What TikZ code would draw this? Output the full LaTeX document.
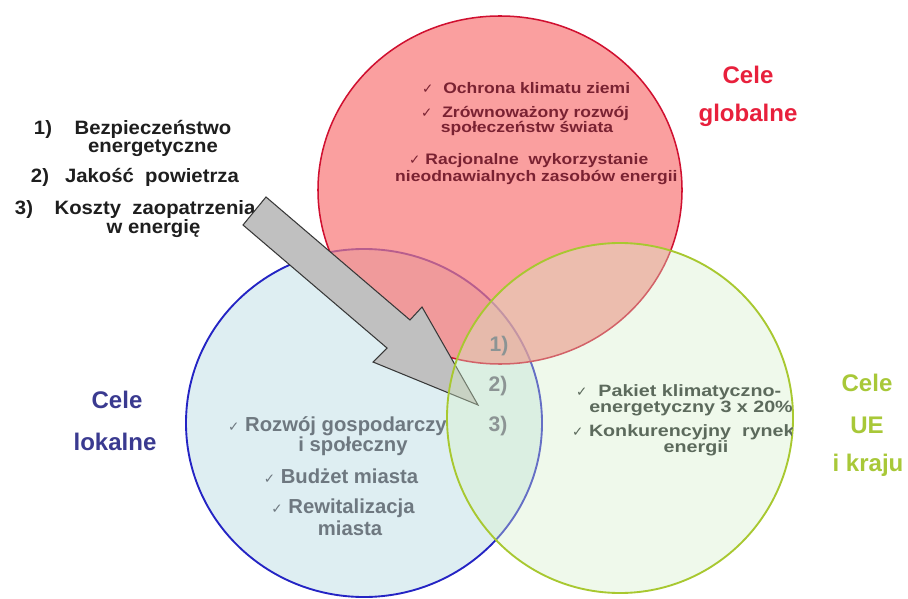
\documentclass[tikz,border=0pt]{standalone}
\usepackage{fontspec}
\setmainfont{Liberation Sans}
\newfontfamily\fL[FakeStretch=1.05]{Liberation Sans}
\newfontfamily\fR[FakeStretch=1.15]{Liberation Sans}
\newfontfamily\fB[FakeStretch=1.0]{Liberation Sans}
\newfontfamily\fG[FakeStretch=1.2]{Liberation Sans}
\newfontfamily\chkfont{DejaVu Sans}
\definecolor{redfill}{RGB}{248,119,119}
\definecolor{redline}{RGB}{208,16,48}
\definecolor{bluefill}{RGB}{222,238,242}
\definecolor{blueline}{RGB}{36,36,196}
\definecolor{greenfill}{RGB}{214,241,201}
\definecolor{greenline}{RGB}{168,200,48}
\definecolor{arrowfill}{RGB}{192,192,192}
\definecolor{arrowline}{RGB}{56,56,56}
\definecolor{listtext}{RGB}{30,30,30}
\definecolor{redtext}{RGB}{122,34,50}
\definecolor{bluetext}{RGB}{110,120,128}
\definecolor{greentext}{RGB}{92,106,92}
\definecolor{lbred}{RGB}{232,32,60}
\definecolor{lbblue}{RGB}{58,58,144}
\definecolor{lbgreen}{RGB}{168,200,56}
\definecolor{numgray}{RGB}{140,148,148}
\newcommand{\chk}{{\chkfont\mdseries\fontsize{11.5}{11.5}\selectfont ✓}}
\tikzset{
  txt/.style={inner sep=0pt, anchor=base},
  lst/.style={txt, text=listtext, font=\fL\bfseries\fontsize{16.5}{18}\selectfont},
  rtxt/.style={txt, text=redtext, font=\fR\bfseries\fontsize{13}{14}\selectfont},
  btxt/.style={txt, text=bluetext, font=\fB\bfseries\fontsize{17.3}{18}\selectfont},
  gtxt/.style={txt, text=greentext, font=\fG\bfseries\fontsize{14}{15}\selectfont},
  lbl/.style={txt, font=\bfseries\fontsize{20.5}{22}\selectfont},
  num/.style={txt, text=numgray, font=\bfseries\fontsize{18}{19}\selectfont},
}
\begin{document}
\begin{tikzpicture}[x=0.03cm,y=-0.03cm]
\useasboundingbox[fill=white] (0,0) rectangle (908,599);
% blue circle
\draw[blueline, line width=1.6pt, fill=bluefill] (364,423) ellipse [x radius=5.34cm, y radius=5.22cm];
\node[btxt, anchor=base west] (b1) at (228,431.7) {\chk\ Rozwój gospodarczy};
\node[btxt] (b2) at (353,451.7) {i społeczny};
\node[btxt] (b3) at (341,483) {\chk\ Budżet miasta};
\node[btxt] (b4) at (343,513) {\chk\ Rewitalizacja};
\node[btxt] (b5) at (350,535) {miasta};
% red circle
\draw[redline, line width=1.3pt, fill=redfill, fill opacity=0.7] (500,190) ellipse [x radius=5.46cm, y radius=5.22cm];
\begin{scope}
\clip (500,190) ellipse [x radius=5.44cm, y radius=5.2cm];
\node[rtxt, anchor=base west] (r1) at (422,93.3) {\chk\ \ Ochrona klimatu ziemi};
\node[rtxt, anchor=base west] (r2) at (421,118) {\chk\ \ Zrównoważony rozwój};
\node[rtxt] (r3) at (527,133) {społeczeństw świata};
\node[rtxt, anchor=base west] (r4) at (409,165) {\chk\ Racjonalne \ wykorzystanie};
\node[rtxt, anchor=base west] (r5) at (395,181.7) {nieodnawialnych zasobów energii};
\end{scope}
% left list
\node[lst] (n1) at (43,134.3) {1)};
\node[lst] (l1) at (153,134.3) {Bezpieczeństwo};
\node[lst] (l1b) at (153,153) {energetyczne};
\node[lst] (n2) at (40,183) {2)};
\node[lst] (l2) at (152,183) {Jakość \ powietrza};
\node[lst] (n3) at (24,215) {3)};
\node[lst] (l3) at (155,215) {Koszty \ zaopatrzenia};
\node[lst] (l3b) at (153.5,234) {w energię};
% arrow
\coordinate (A) at (266,197);
\coordinate (C) at (410,320);
\coordinate (D) at (422,307);
\coordinate (T) at (478,405);
\coordinate (E) at (373,362);
\coordinate (F) at (387,348);
\coordinate (B) at (243,225);
\draw[arrowline, fill=arrowfill, line width=0.9pt] (A) -- (C) -- (D) -- (T) -- (E) -- (F) -- (B) -- cycle;
% green circle
\draw[greenline, line width=1.6pt, fill=greenfill, fill opacity=0.37] (620,418) ellipse [x radius=5.19cm, y radius=5.25cm];
\begin{scope}
\clip (620,418) ellipse [x radius=5.17cm, y radius=5.23cm];
\node[gtxt, anchor=base west] (g1) at (576,396.7) {\chk\ \ Pakiet klimatyczno-};
\node[gtxt] (g2) at (691,412.7) {energetyczny 3 x 20\%};
\node[gtxt, anchor=base west] (g3) at (572,436.7) {\chk\ Konkurencyjny \ rynek};
\node[gtxt] (g4) at (696,452.7) {energii};
\end{scope}
% labels
\node[lbl, text=lbred] (cg1) at (748,83.3) {Cele};
\node[lbl, text=lbred] (cg2) at (748,121.7) {globalne};
\node[lbl, text=lbblue] (cl1) at (117,408.3) {Cele};
\node[lbl, text=lbblue] (cl2) at (115,450) {lokalne};
\node[lbl, text=lbgreen] (cu1) at (867,391.7) {Cele};
\node[lbl, text=lbgreen] (cu2) at (867,433.3) {UE};
\node[lbl, text=lbgreen] (cu3) at (868,471.7) {i kraju};
% numbers in the overlap
\node[num] (o1) at (499,351.7) {1)};
\node[num] (o2) at (498,391.7) {2)};
\node[num] (o3) at (498,431.7) {3)};
\end{tikzpicture}
\end{document}
